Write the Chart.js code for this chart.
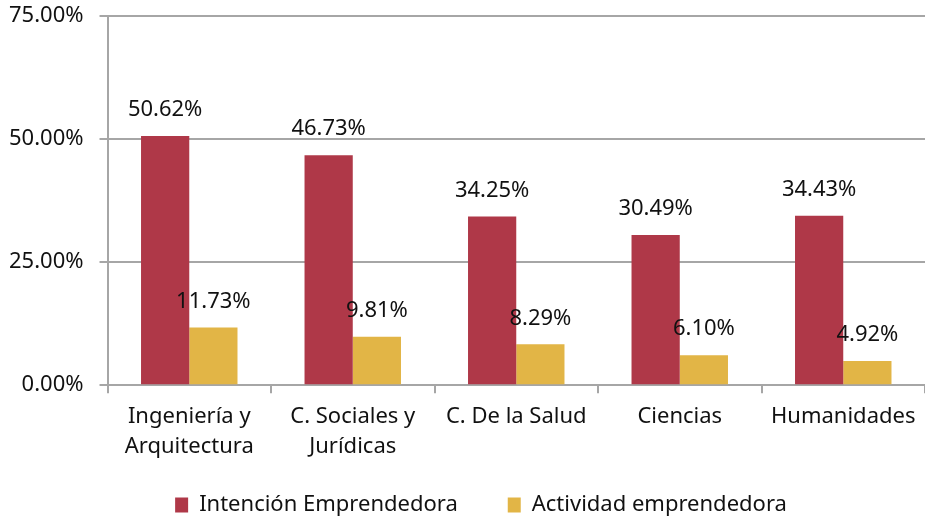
<!DOCTYPE html>
<html>
<head>
<meta charset="utf-8">
<script src="https://cdn.jsdelivr.net/npm/chart.js@4"></script>
<style>
  html, body { margin: 0; padding: 0; background: #fff; }
  #wrap { width: 925px; height: 519px; }
</style>
</head>
<body>
<div id="wrap"><canvas id="chart"></canvas></div>
<script>
const categories = [['Ingeniería y', 'Arquitectura'], ['C. Sociales y', 'Jurídicas'], 'C. De la Salud', 'Ciencias', 'Humanidades'];
const intencion = [50.62, 46.73, 34.25, 30.49, 34.43];
const actividad = [11.73, 9.81, 8.29, 6.10, 4.92];
const yTicks = [0, 25, 50, 75];

const FONT = '"Noto Sans", sans-serif';
const GRID = '#a6a6a6';

// value labels above each bar
const barLabels = {
  id: 'barLabels',
  afterDatasetsDraw(chart) {
    const ctx = chart.ctx;
    ctx.save();
    ctx.font = '22px ' + FONT;
    ctx.fillStyle = '#111';
    ctx.textAlign = 'center';
    ctx.textBaseline = 'middle';
    chart.data.datasets.forEach((ds, i) => {
      chart.getDatasetMeta(i).data.forEach((bar, j) => {
        ctx.fillText(ds.data[j].toFixed(2) + '%', bar.x, bar.y - 26);
      });
    });
    ctx.restore();
  }
};

// legend: keep the wide gap between items without the tall box that padding gives
const legendFit = {
  id: 'legendFit',
  beforeLayout(chart) {
    const lg = chart.legend;
    if (lg && !lg._fitWrapped) {
      const orig = lg.fit;
      lg.fit = function () {
        orig.call(this);
        this.height = 48;
      };
      lg._fitWrapped = true;
    }
  },
  afterLayout(chart) {
    // items are drawn at top + padding, pull them up to sit under the axis labels
    const lg = chart.legend;
    lg.top = lg.bottom - 75;
    lg.left += 22;
    lg.right += 22;
  }
};

new Chart(document.getElementById('chart'), {
  type: 'bar',
  data: {
    labels: categories,
    datasets: [{
      label: 'Intención Emprendedora',
      data: intencion,
      backgroundColor: '#af3848',
      barPercentage: 1,
      categoryPercentage: 0.59
    }, {
      label: 'Actividad emprendedora',
      data: actividad,
      backgroundColor: '#e2b546',
      barPercentage: 1,
      categoryPercentage: 0.59
    }]
  },
  options: {
    responsive: true,
    maintainAspectRatio: false,
    animation: false,
    layout: { padding: { top: 16, right: 0, left: -7, bottom: 0 } },
    plugins: {
      legend: {
        position: 'bottom',
        labels: {
          font: { family: FONT, size: 22 },
          color: '#111',
          boxWidth: 13,
          boxHeight: 15,
          padding: 50
        }
      },
      tooltip: { enabled: false }
    },
    scales: {
      x: {
        afterFit(scale) { scale.paddingTop = 0; scale.paddingBottom = 0; },
        grid: { drawOnChartArea: false, color: GRID, lineWidth: 2, tickLength: 8, offset: true },
        border: { color: GRID, width: 2 },
        ticks: { font: { family: FONT, size: 22, lineHeight: 1.36 }, color: '#111', maxRotation: 0, padding: 9 }
      },
      y: {
        min: 0,
        max: 75,
        afterBuildTicks(axis) { axis.ticks = yTicks.map(v => ({ value: v })); },
        afterFit(scale) { scale.paddingTop = 0; scale.paddingBottom = 0; },
        grid: { color: GRID, lineWidth: 2, tickLength: 8 },
        border: { color: GRID, width: 2 },
        ticks: {
          font: { family: FONT, size: 22 },
          color: '#111',
          padding: 16,
          callback: v => v.toFixed(2) + '%'
        }
      }
    }
  },
  plugins: [barLabels, legendFit]
});
</script>
</body>
</html>
